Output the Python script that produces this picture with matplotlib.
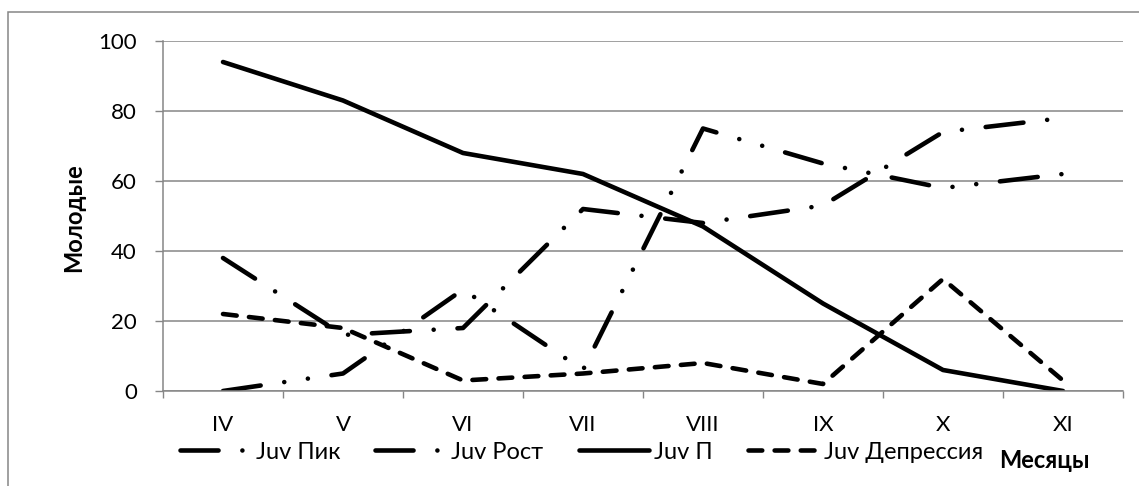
import matplotlib
matplotlib.use("Agg")
import matplotlib.pyplot as plt
from matplotlib.patches import Rectangle
from matplotlib.ticker import FixedLocator, NullFormatter

# ---- data ----
months = ['IV', 'V', 'VI', 'VII', 'VIII', 'IX', 'X', 'XI']
juv_pik = [38, 16, 18, 52, 48, 53, 74, 78]
juv_rost = [0, 5, 29, 6, 75, 65, 58, 62]
juv_p = [94, 83, 68, 62, 47, 25, 6, 0]
juv_depr = [22, 18, 3, 5, 8, 2, 32, 3]
series_names = ['Juv Пик', 'Juv Рост', 'Juv П', 'Juv Депрессия']
y_ticks = [0, 20, 40, 60, 80, 100]

plt.rcParams['font.family'] = ['Lato', 'DejaVu Sans']

W, H = 1139, 486
fig = plt.figure(figsize=(W / 100, H / 100), dpi=100)
ax = fig.add_axes([163 / W, 1 - 391 / H, 960 / W, 350 / H])

GRAY = '#868686'
LW = 3.3
x = list(range(len(months)))

styles = [
    dict(linestyle=(0, (8.3, 5.2, 0.01, 5.2)), dash_capstyle='round'),
    dict(linestyle=(0, (8.3, 5.2, 0.01, 5.2, 0.01, 5.2)), dash_capstyle='round'),
    dict(linestyle='-', solid_capstyle='round'),
    dict(linestyle=(0, (3.0, 2.7)), dash_capstyle='round'),
]
data = [juv_pik, juv_rost, juv_p, juv_depr]
handles = []
for vals, name, st in zip(data, series_names, styles):
    h, = ax.plot(x, vals, color='black', lw=LW, label=name,
                 solid_joinstyle='round', dash_joinstyle='round', **st)
    handles.append(h)

ax.set_xlim(-0.5, len(months) - 0.5)
ax.set_ylim(0, 100)

# y axis
ax.set_yticks(y_ticks)
ax.yaxis.grid(True, color=GRAY, lw=1.1)
ax.set_axisbelow(True)
ax.tick_params(axis='y', direction='out', length=5.8, width=1, color=GRAY,
               pad=13, labelsize=16)

# x axis: tick marks at boundaries, labels at centers
ax.xaxis.set_major_locator(FixedLocator([i - 0.5 for i in range(len(months) + 1)]))
ax.xaxis.set_major_formatter(NullFormatter())
ax.xaxis.set_minor_locator(FixedLocator(x))
ax.set_xticklabels(months, minor=True)
ax.tick_params(axis='x', which='major', direction='out', length=5.2, width=1, color=GRAY)
ax.tick_params(axis='x', which='minor', length=0, pad=17, labelsize=16)

for s in ['top', 'right']:
    ax.spines[s].set_visible(False)
for s in ['left', 'bottom']:
    ax.spines[s].set_color(GRAY)
    ax.spines[s].set_linewidth(1.1)

ax.set_ylabel('Молодые', fontsize=17, fontweight='bold', va='center')
ax.yaxis.set_label_coords((74 - 163) / 960, (391 - 218) / 350)
ax.set_xlabel('Месяцы', fontsize=17, fontweight='bold', va='center', ha='center')
ax.xaxis.set_label_coords((1044 - 163) / 960, (391 - 461) / 350)

fig.legend(handles=handles, loc='center left',
           bbox_to_anchor=(180 / W, 1 - 452 / H), bbox_transform=fig.transFigure,
           ncol=4, frameon=False, fontsize=17, handlelength=3.0,
           handletextpad=0.2, columnspacing=1.5, borderpad=0, borderaxespad=0)

# outer chart border (left and top visible)
fig.patches.append(Rectangle((8 / W, -0.1), 1.2, 1.1 - 12 / H,
                             transform=fig.transFigure, fill=False,
                             edgecolor=GRAY, lw=1.1))

fig.savefig('out.png', dpi=100)
